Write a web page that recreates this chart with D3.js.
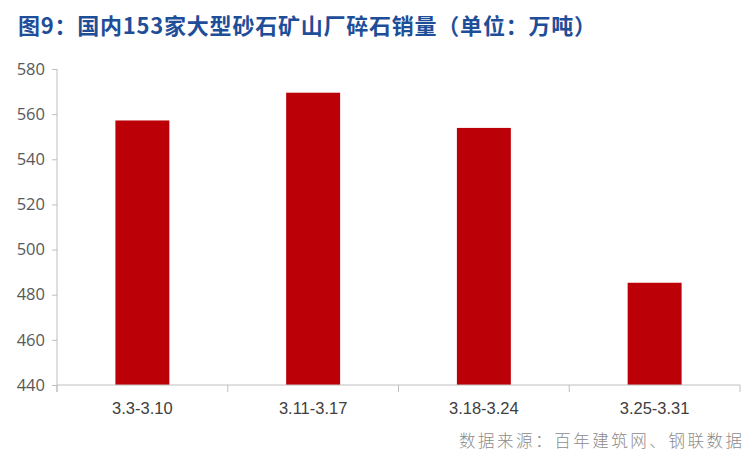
<!DOCTYPE html>
<html><head><meta charset="utf-8">
<script src="https://cdn.jsdelivr.net/npm/d3@7"></script>
<style>body{margin:0;background:#fff}svg{display:block}</style>
</head><body><svg id="c" width="756" height="466"></svg>
<script>
const categories = ["3.3-3.10","3.11-3.17","3.18-3.24","3.25-3.31"];
const values = [557.2, 569.5, 553.9, 485.3];
const yTicks = [440,460,480,500,520,540,560,580];
const title = "图9：国内153家大型砂石矿山厂碎石销量（单位：万吨）";
const source = "数据来源：百年建筑网、钢联数据";

const svg = d3.select("#c");
const m = {l:57, r:16, t:69, b:81};
const W = 756, H = 466;
const x = d3.scaleBand().domain(categories).range([m.l, W-m.r]).paddingInner(0.684).paddingOuter(0.342);
const y = d3.scaleLinear().domain([440,580]).range([H-m.b, m.t]);

svg.append("text").attr("x",18).attr("y",34).attr("fill","#1f4e99")
  .attr("font-family","'Noto Sans CJK SC'").attr("font-weight","bold").attr("font-size",22)
  .attr("textLength",578).attr("lengthAdjust","spacing")
  .text(title);

svg.selectAll("rect.bar").data(values).join("rect").attr("class","bar")
  .attr("x",(d,i)=>x(categories[i])).attr("width",x.bandwidth())
  .attr("y",d=>y(d)).attr("height",d=>y(440)-y(d))
  .attr("fill","#bb0008");

const ya = svg.append("g").attr("transform",`translate(${m.l},0)`)
  .call(d3.axisLeft(y).tickValues(yTicks).tickSize(5).tickPadding(7));
ya.select(".domain").remove();
ya.append("line").attr("x1",0).attr("x2",0).attr("y1",m.t).attr("y2",H-m.b+7).attr("stroke","#bfbfbf");
ya.selectAll(".tick line").attr("stroke","#bfbfbf");
ya.selectAll("text").attr("fill","#595959").attr("font-family","'Open Sans', 'DejaVu Sans'").attr("font-size",16.5);

const xa = svg.append("g").attr("transform",`translate(0,${H-m.b})`);
xa.append("line").attr("x1",m.l).attr("x2",W-m.r).attr("stroke","#bfbfbf");
const edges = categories.map(c=>x(c)-x.step()*x.paddingInner()/2).concat([W-m.r]);
xa.selectAll("line.t").data(edges).join("line").attr("class","t")
  .attr("x1",d=>d).attr("x2",d=>d).attr("y1",0).attr("y2",7).attr("stroke","#bfbfbf");
xa.selectAll("text").data(categories).join("text")
  .attr("x",d=>x(d)+x.bandwidth()/2).attr("y",29).attr("text-anchor","middle")
  .attr("fill","#404040").attr("font-family","'Liberation Sans Narrow','Liberation Sans'").attr("font-size",16.5)
  .text(d=>d);

svg.append("text").attr("x",459).attr("y",447)
  .attr("fill","#8c8c8c").attr("font-family","'Noto Sans CJK SC'").attr("font-weight",300).attr("font-size",16.5)
  .attr("textLength",283).attr("lengthAdjust","spacing")
  .text(source);
</script></body></html>
